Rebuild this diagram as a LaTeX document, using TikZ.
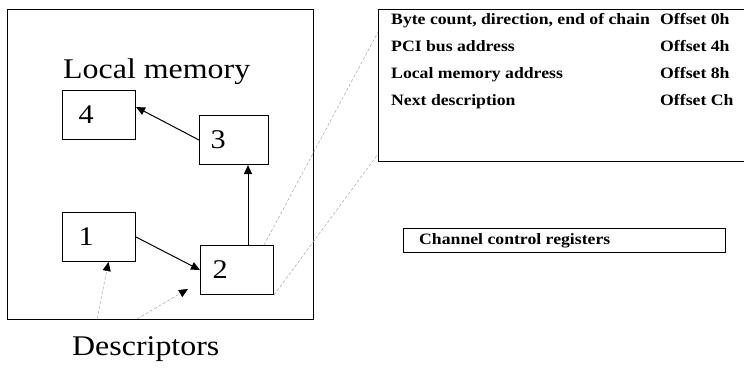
\documentclass[tikz,border=0pt]{standalone}
\usepackage{fontspec}
\setmainfont[FakeStretch=1.12]{Liberation Serif}
\usetikzlibrary{arrows.meta,calc}
\tikzset{
  numbox/.style={draw, line width=1pt, minimum height=49pt, text width=41pt, inner xsep=16pt, align=left, font=\fontsize{27}{27}\selectfont, anchor=north west},
  bigtxt/.style={font=\fontsize{28.5}{28.5}\selectfont, anchor=base west, inner sep=0pt},
  regtxt/.style={font=\fontsize{15.8}{15.8}\selectfont\bfseries, anchor=base west, inner sep=0pt},
  frame/.style={draw, line width=1pt},
  arr/.style={line width=1pt, -{Triangle[length=9pt,width=8pt]}},
  dots/.style={gray!70, line width=0.5pt, dash pattern=on 3pt off 2pt},
  darr/.style={dots, -{Triangle[length=9pt,width=8pt,color=black]}}
}
\begin{document}
\begin{tikzpicture}[x=1pt,y=-1pt]
\useasboundingbox (0,0) rectangle (744,369);
% outer memory box
\node[frame, anchor=north west, minimum width=306pt, minimum height=310pt, inner sep=0pt] (mem) at (7,9) {};
\node[bigtxt] (lm) at (63,78) {Local memory};
\node[bigtxt] (desc) at (72,355) {Descriptors};
% descriptor boxes
\node[numbox, minimum width=73pt] (b4) at (62,90) {4};
\node[numbox, text width=47pt, inner xsep=11pt] (b3) at (199,115) {3};
\node[numbox] (b1) at (62,212) {1};
\node[numbox, text width=49pt, inner xsep=12pt] (b2) at (200,245) {2};
% register block
\node[frame, anchor=north west, minimum width=380pt, minimum height=152pt, inner sep=0pt] (regs) at (378,9) {};
\node[regtxt] (r1) at (391,25) {Byte count, direction, end of chain};
\node[regtxt] (r2) at (391,52) {PCI bus address};
\node[regtxt] (r3) at (391,78) {Local memory address};
\node[regtxt] (r4) at (391,105) {Next description};
\node[regtxt] (o1) at (660,25) {Offset 0h};
\node[regtxt] (o2) at (660,52) {Offset 4h};
\node[regtxt] (o3) at (660,78) {Offset 8h};
\node[regtxt] (o4) at (660,105) {Offset Ch};
% channel control registers
\node[frame, anchor=north west, minimum width=322pt, minimum height=24pt, inner sep=0pt] (ccr) at (403,228) {};
\node[regtxt] (ccrt) at (419,244) {Channel control registers};
% chain arrows
\draw[arr] (b1.east) -- (b2.west);
\draw[arr] ([xshift=11pt]b2.north) -- ([xshift=11pt]b2.north |- b3.south);
\draw[arr] (b3.west) -- ([yshift=8pt]b4.east);
% zoom lines
\draw[dots] ([xshift=27pt]b2.north) -- ([yshift=-23pt]regs.north west);
\draw[dots] (b2.south east) -- ([yshift=8pt]regs.south west);
% descriptor pointers
\coordinate (d1) at (97,319);
\coordinate (d2) at (137,319);
\coordinate (d2end) at (188,289);
\draw[darr] (d1) -- ([xshift=9.5pt]b1.south);
\draw[darr] (d2) -- (d2end);
\end{tikzpicture}
\end{document}
